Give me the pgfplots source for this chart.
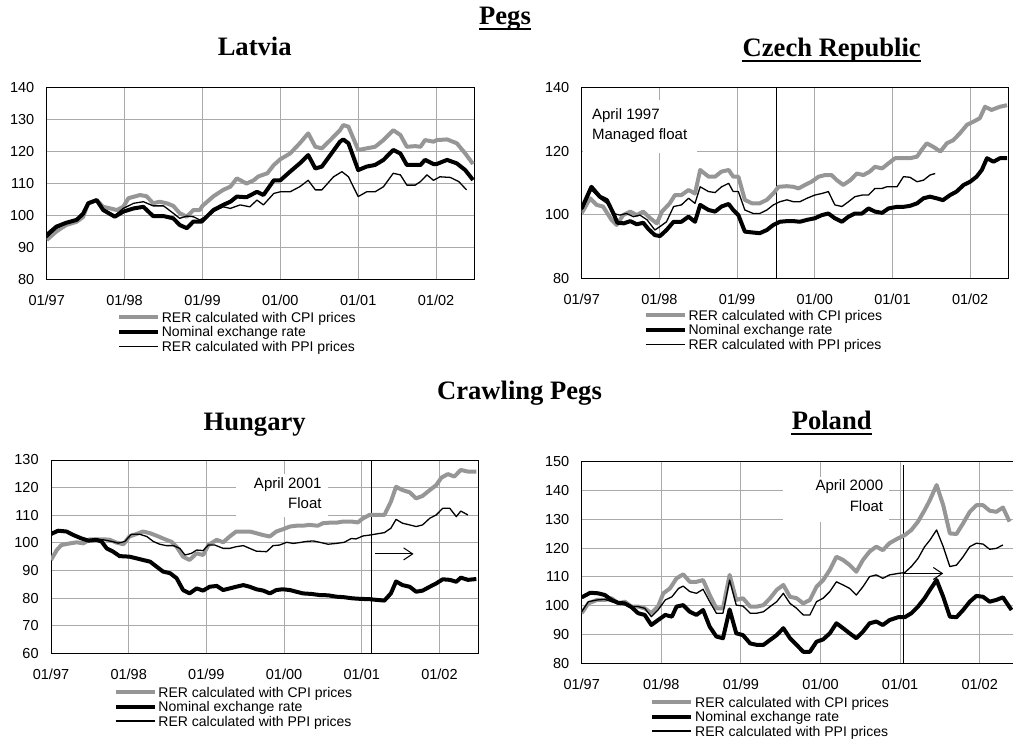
\documentclass[border=0pt]{standalone}
\usepackage{pgfplots}
\pgfplotsset{compat=1.18}
\usepackage{fontspec}
\setmainfont{Liberation Sans}
\newfontfamily\titlefont{Liberation Serif}
\usetikzlibrary{arrows.meta}
\definecolor{cpigray}{RGB}{150,150,150}
\definecolor{gridgray}{RGB}{170,170,170}
\pgfplotsset{
 panel/.style={
  scale only axis, anchor=south west,
  xmin=0, xmax=66,
  xtick={0,12,24,36,48,60},
  xticklabels={01/97,01/98,01/99,01/00,01/01,01/02},
  grid=major, major grid style={gridgray, line width=0.5pt},
  axis line style={black, line width=0.5pt},
  major tick length=0pt, tick style={draw=none},
  /pgf/number format/assume math mode=true,
  tick label style={font=\fontsize{7.25}{8}\selectfont, inner sep=0pt},
  xticklabel style={anchor=base, yshift=-12.85pt},
  yticklabel style={anchor=east, xshift=-6pt},
  legend cell align=left,
  legend image code/.code={\draw[##1] (0pt,0pt) -- (19.5pt,0pt);},
  legend style={draw=none, fill=none, inner sep=0pt, row sep=2.25pt, anchor=north west,
    nodes={inner ysep=0pt, inner xsep=0.9pt, text height=5pt, text depth=0pt, font=\fontsize{7}{8}\selectfont}},
 },
 cpi/.style={color=cpigray, line width=2pt, line join=round},
 nom/.style={color=black, line width=2pt, line join=round},
 ppi/.style={color=black, line width=0.65pt, line join=round},
}
\tikzset{ttl/.style={font=\titlefont\bfseries\fontsize{13.3}{15}\selectfont, inner sep=0pt, anchor=base},
 anot/.style={font=\fontsize{7.5}{9}\selectfont, inner sep=0pt, text height=5.4pt, text depth=0pt}}
\begin{document}
\begin{tikzpicture}
\path[use as bounding box] (0pt,0pt) rectangle (506.5pt,-370pt);

% ---------------- Latvia ----------------
\begin{axis}[panel, at={(23.35pt,-139.65pt)}, width=214.15pt, height=95.8pt,
  ymin=80, ymax=140, ytick={80,90,...,140},
  legend style={at={(0.1634,-0.1707)}}]
\addplot[cpi] coordinates {(0,92.3)(1.5,95)(3,97)(4.6,98)(5.6,99.5)(6.4,103.8)(7.7,104.8)(8.7,102.7)(9.8,102.2)(10.8,101.7)(11.8,102.7)(12.6,105.4)(14.4,106.4)(15.4,106)(16.4,103.8)(17.4,104.3)(18.5,103.8)(19.5,103)(20.5,100.7)(21.6,99.6)(22.6,101.7)(23.6,101.7)(24,103)(25.7,106)(27.2,108)(28.3,109)(29.3,111.6)(30.8,110)(31.9,111)(32.6,112.2)(34,113.2)(35,115.8)(36,117.6)(37.5,119.4)(39,122.6)(40.3,125.7)(41.4,121.5)(42.4,121)(43.7,123.6)(45.2,126.7)(45.7,128.3)(46.5,127.8)(48,120.5)(49.3,121)(50.6,121.5)(51.9,123.6)(53.4,126.7)(54.5,125.2)(55.5,121.5)(56.8,121.7)(57.6,121.5)(58.3,123.6)(59.6,123.1)(60.1,123.6)(61.7,123.8)(63.2,122.6)(64.5,119.4)(65.7,116.1)};
\addplot[nom] coordinates {(0,93.9)(1.5,96.5)(3,97.7)(4.6,98.6)(5.6,100.5)(6.4,103.8)(7.7,104.8)(8.7,101.7)(10.5,99.6)(11.8,101.2)(13.4,102.2)(14.9,102.7)(16.4,99.8)(18,99.8)(19.5,99.1)(20.5,97)(21.6,96)(22.6,98.1)(23.9,98.1)(25.7,101.7)(27.2,103.3)(28.3,104.3)(29.3,105.9)(30.8,105.7)(32.4,107.4)(33.4,106.4)(35,111)(36,111)(37.5,113.7)(39,116.3)(40.3,118.9)(41.4,114.7)(42.4,115.3)(43.7,118.9)(45.2,123.1)(45.7,123.8)(46.5,122.6)(48,114.2)(49.3,115.3)(50.6,115.8)(51.9,117.4)(53.4,120.5)(54.5,119.4)(55.5,115.8)(57.6,115.8)(58.3,117.4)(59.6,116.1)(60.1,116.1)(61.7,117.4)(63.2,116.3)(64.5,114.2)(65.7,111.1)};
\addplot[ppi] coordinates {(0,93)(1.5,96)(3,97.5)(4.6,98.4)(5.6,100.3)(6.4,103.6)(7.7,104.6)(8.7,101.9)(10.5,100)(11.8,102.2)(13.4,103.8)(14.9,104.3)(16.4,103)(18,103)(19.5,100.7)(20.5,99.1)(21.6,99.8)(22.6,99.6)(23.6,98.6)(25.7,101.2)(27.2,102.7)(28.3,102.2)(29.8,103.3)(31.3,102.7)(32.4,104.8)(33.4,103.3)(35,106.9)(36,107.4)(37.5,107.4)(39,109)(40.3,111)(41.4,108)(42.4,108)(44.2,112.1)(45.5,113.7)(46.5,112.1)(48,105.9)(49.3,107.4)(50.6,107.4)(51.9,109)(53.4,113.2)(54.5,112.7)(55.5,109.5)(56.8,109.5)(57.6,110.6)(58.6,112.7)(59.6,111)(60.6,112.1)(62.2,111.9)(63.5,110.6)(64.7,108)};
\legend{RER calculated with CPI prices, Nominal exchange rate, RER calculated with PPI prices}
\end{axis}

% ---------------- Czech Republic ----------------
\begin{axis}[panel, at={(290.85pt,-139.15pt)}, width=213.65pt, height=95.3pt,
  ymin=80, ymax=140, ytick={80,100,120,140},
  legend style={at={(0.1442,-0.1663)}}]
\fill[white] (0.2,119.3) rectangle (17.8,136.1);
\draw[black, line width=0.6pt] (30.1,80) -- (30.1,140);
\addplot[cpi] coordinates {(0,100.5)(1.3,105.2)(2.3,103.1)(3.3,102.6)(4.6,98.4)(5.4,96.8)(6.4,99.9)(7.5,101)(8.5,99.9)(9.5,101)(10.6,98.9)(11.6,97.3)(12.4,101)(13.6,103.6)(14.4,106.2)(15.4,106.2)(16.5,107.8)(17.5,106.7)(18.3,114.1)(19.6,112)(20.6,112)(21.6,113.6)(22.7,114.1)(23.4,112)(24.2,112)(25.2,104.7)(26.3,103.6)(27.5,103.6)(28.6,104.7)(29.6,106.7)(30.4,108.8)(31.7,109)(32.7,108.8)(33.5,108.3)(34.5,109.4)(35.5,110.4)(36.6,112)(37.6,112.5)(38.6,112.5)(39.4,110.9)(40.4,109.4)(41.5,110.9)(42.5,113)(43.5,112.5)(44.5,113.6)(45.3,115.1)(46.4,114.6)(47.4,116.2)(48.4,117.8)(49.7,117.8)(50.7,117.8)(51.8,118.3)(52.5,120.4)(53.3,122.5)(54.3,121.4)(55.4,119.9)(56.4,122.5)(57.4,123.5)(58.4,125.6)(59.5,128.3)(60.5,129.3)(61.5,130.4)(62.3,134)(63.3,133)(64.6,134)(65.7,134.5)};
\addplot[nom] coordinates {(0,102)(1.5,108.8)(2.8,105.7)(3.9,104.6)(4.9,100.4)(5.5,97.5)(6.5,97.3)(7.5,98)(8.5,97)(9.5,97.5)(10.3,95.5)(11.3,93.6)(12.1,93.3)(13.1,95.2)(14.2,97.8)(15.4,97.8)(16.5,99.4)(17.5,97.8)(18.3,103.1)(19.6,101.5)(20.6,101)(21.6,102.6)(22.7,103.4)(23.4,101.5)(24.2,99.9)(25.2,94.7)(26.5,94.4)(27.5,94.2)(28.6,95.2)(29.6,96.8)(30.6,97.8)(31.7,98)(32.7,98)(33.7,97.8)(34.8,98.4)(36,98.9)(37.1,99.9)(38.1,100.4)(39.1,98.9)(40.2,97.8)(41.2,99.4)(42.2,100.4)(43.3,100.4)(44.3,102)(45.3,101)(46.4,100.6)(47.4,102)(48.7,102.5)(49.7,102.5)(50.7,102.8)(51.8,103.6)(52.8,105.2)(53.8,105.7)(54.8,105.2)(55.8,104.6)(56.9,106.2)(57.9,107.3)(59,109.4)(60,110.4)(61,112)(61.8,114.1)(62.6,117.8)(63.6,116.7)(64.6,117.8)(65.7,117.8)};
\addplot[ppi] coordinates {(0,101.5)(1.5,107.8)(2.8,105.2)(3.9,103.6)(4.9,100.4)(5.9,99.9)(6.9,100.4)(8,99.4)(9,99.9)(10.1,98.4)(11.3,95.2)(12.1,96.3)(13.1,97.8)(14.2,102.6)(15.4,103.1)(16.5,105.2)(17.5,103.6)(18.3,108.8)(19.6,107.3)(20.6,107)(21.6,108.8)(22.7,109.9)(23.4,107.3)(24.2,107.3)(25.2,101.5)(26.5,100.4)(27.5,100.4)(28.6,101.5)(29.6,103.1)(30.6,104.1)(31.7,104.7)(32.7,104.1)(33.7,104.1)(34.8,105.2)(36,106.2)(37.1,106.7)(38.1,107.3)(39.1,103.1)(40.2,102.6)(41.2,104.1)(42.2,105.7)(43.3,106.2)(44.3,106.2)(45.3,108.3)(46.4,108.3)(47.1,108.8)(48.7,108.8)(49.7,112)(50.7,111.8)(51.8,110.4)(52.8,110.9)(53.8,112.5)(54.6,113)};
\node[anot, anchor=west] at (1.55,131.7) {April 1997};
\node[anot, anchor=west] at (1.55,125.3) {Managed float};
\legend{RER calculated with CPI prices, Nominal exchange rate, RER calculated with PPI prices}
\end{axis}

% ---------------- Hungary ----------------
\begin{axis}[panel, at={(25.5pt,-326.65pt)}, width=213.65pt, height=96.65pt,
  ymin=60, ymax=130, ytick={60,70,...,130},
  legend style={at={(0.1458,-0.1728)}}]
\fill[white] (28.6,109.5) rectangle (42.8,124.8);
\draw[black, line width=0.6pt] (49.5,60) -- (49.5,130);
\draw[black, line width=0.5pt, -{Straight Barb[length=4.5pt,width=6pt]}] (50.1,96) -- (56,96);
\addplot[cpi] coordinates {(0,93.8)(0.9,97.4)(1.6,99.2)(2.9,99.8)(4,100.2)(5,99.8)(6,101.3)(7,101.3)(8.1,101.3)(9.1,101.1)(10.1,100.1)(11.2,99.5)(12.1,102.3)(13.2,103.2)(14.2,104.1)(15.3,103.5)(16.6,102.3)(17.6,101.3)(18.6,100.4)(19.4,98.6)(20.4,95)(21.4,93.8)(22.5,96.2)(23.5,95.6)(24.3,99.2)(25.6,101.1)(26.6,100.2)(27.6,102.3)(28.6,104.1)(29.7,104.1)(30.7,104.1)(31.7,103.5)(32.8,102.8)(33.8,102.3)(34.8,104.1)(35.8,104.9)(36.9,105.9)(37.9,106.2)(38.9,106.2)(39.9,106.5)(41.2,106.2)(42,107.1)(43,107.3)(44.1,107.3)(45.1,107.7)(46.4,107.7)(47.4,107.4)(48.2,108.9)(49.2,110.1)(50.2,110.1)(51.5,110.1)(52.5,114.9)(53.3,120.3)(54.3,119.1)(55.4,118.3)(56.4,116.1)(57.4,117)(58.5,119.1)(59.5,120.9)(60.3,123.6)(61.3,124.9)(62.3,124)(63.3,126.4)(64.4,125.8)(65.7,125.8)};
\addplot[nom] coordinates {(0,103.2)(1.1,104.4)(2.4,104.1)(3.5,102.8)(4.7,101.6)(5.8,100.8)(7,101.1)(7.8,100.5)(8.6,98)(9.6,96.8)(10.6,95.2)(12.1,95)(13.2,94.4)(14.2,93.8)(15.3,93.2)(16.3,91.4)(17.3,89.6)(18.4,89)(19.4,87.2)(20.4,82.9)(21.4,81.7)(22.5,83.5)(23.5,82.7)(24.5,84.1)(25.6,84.4)(26.6,82.9)(27.6,83.5)(28.6,84.1)(29.7,84.7)(30.7,84.1)(31.7,83.2)(32.8,82.7)(33.8,81.7)(34.8,82.9)(35.8,83.2)(36.9,82.9)(37.9,82.3)(38.9,81.7)(40.2,81.5)(41.5,81.1)(42.8,81)(44.1,80.5)(45.3,80.3)(46.6,79.9)(47.9,79.7)(49.2,79.6)(50.5,79.3)(51.5,79.1)(52.5,81.7)(53.3,86)(54.3,84.7)(55.4,84.1)(56.4,82.3)(57.4,82.7)(58.5,84.1)(59.5,85.3)(60.5,86.8)(61.6,86.6)(62.6,85.9)(63.3,87.4)(64.4,86.6)(65.7,86.9)};
\addplot[ppi] coordinates {(0,103.5)(1.1,104.4)(2.4,104.1)(3.7,102.8)(5,101.3)(6,100.7)(7,101.3)(8.1,101.1)(9.4,100.5)(10.4,99.9)(11.4,100.5)(12.4,103.1)(13.7,103.1)(14.8,102.3)(15.8,100.5)(16.8,99.5)(17.8,99)(18.9,99)(19.9,98)(20.7,95.6)(21.7,96.2)(22.5,97.4)(23.5,97.2)(24.3,99.2)(25.3,99.2)(26.6,98)(27.6,98)(28.6,98.6)(29.7,99)(30.7,98)(31.7,97)(33.3,96.8)(34.3,99)(35.3,99.2)(36.4,100.2)(37.4,99.8)(38.4,100.1)(39.4,100.5)(40.5,100.7)(41.5,100.2)(42.8,99.5)(44.1,99.8)(45.3,100.2)(46.4,101.6)(47.1,101.4)(48.2,102.5)(49.2,102.8)(50.2,103.2)(51.5,103.7)(52.5,105.3)(53.3,108.5)(54.3,107.1)(55.4,106.5)(56.4,105.9)(57.4,106.5)(58.5,108.9)(59.5,110.1)(60.5,112.5)(61.6,112.5)(62.6,109.5)(63.3,111.5)(64.4,110.1)};
\node[anot, anchor=east] at (41.85,121.6) {April 2001};
\node[anot, anchor=east] at (41.85,114.3) {Float};
\legend{RER calculated with CPI prices, Nominal exchange rate, RER calculated with PPI prices}
\end{axis}

% ---------------- Poland ----------------
\begin{axis}[panel, at={(290.85pt,-331.65pt)}, width=218.9pt, height=100.8pt,
  ymin=80, ymax=150, ytick={80,90,...,150},
  legend style={at={(0.156,-0.1657)}}]
\fill[white] (30.4,129.2) rectangle (46.4,144.8);
\draw[black, line width=0.6pt] (48.5,80) -- (48.5,149);
\draw[black, line width=0.5pt, -{Straight Barb[length=4.5pt,width=6pt]}] (48.5,111.2) -- (54.5,111.2);
\addplot[cpi] coordinates {(0,97.4)(1,100.8)(2.3,102)(3.5,102)(4.5,102.6)(5.5,100.8)(6.5,101.4)(7.5,99.7)(8.5,99.7)(9.5,99.1)(10.5,97.4)(11.5,99.7)(12.3,104.3)(13.3,106)(14.3,109.5)(15.3,110.9)(16.3,108.3)(17.3,108.3)(18.3,108.9)(19.3,103.7)(20.3,99.1)(21.3,99.1)(22.3,110.7)(23.3,102)(24.3,102.6)(25.4,99.7)(26.4,99.7)(27.4,100.2)(28.4,102.6)(29.4,105.5)(30.4,107.2)(31.4,103.1)(32.4,102.6)(33.4,100.8)(34.4,102)(35.4,106.6)(36.4,108.9)(37.4,112.4)(38.4,117)(39.4,115.9)(40.4,114.1)(41.4,111.8)(42.4,115.9)(43.4,118.8)(44.4,120.5)(45.4,119.3)(46.4,121.7)(47.7,123.4)(48.7,124.5)(49.7,126.3)(50.7,129.2)(51.7,133.2)(52.5,136.7)(53.5,141.9)(54.5,134.9)(55.5,125.1)(56.5,124.9)(57.5,128.6)(58.5,132.6)(59.5,134.9)(60.5,134.9)(61.5,133)(62.5,132.6)(63.5,134.1)(64.5,129.2)};
\addplot[nom] coordinates {(0,102.9)(1.3,104.5)(2.5,104.3)(3.5,103.7)(4.5,102)(5.5,101)(6.5,100.8)(7.5,99.5)(8.5,97.4)(9.5,96.8)(10.5,93.3)(11.5,95)(12.6,96.8)(13.6,96.2)(14.3,99.7)(15.3,100.2)(16.3,97.9)(17.3,96.8)(18.3,98.5)(19.3,92.7)(20.3,89.3)(21.3,88.7)(22.3,98.7)(23.3,90.4)(24.3,89.8)(25.4,86.9)(26.4,86.4)(27.4,86.4)(28.4,88.1)(29.4,89.8)(30.4,92.2)(31.4,88.7)(32.4,86.4)(33.4,84)(34.4,84)(35.4,87.5)(36.4,88.3)(37.4,90.4)(38.4,93.9)(39.4,92.2)(40.4,90.4)(41.4,88.7)(42.4,91)(43.4,93.9)(44.4,94.5)(45.4,93.3)(46.4,95)(47.7,96)(48.7,96)(49.7,97.4)(50.7,99.7)(51.7,102.6)(52.5,105.5)(53.5,108.9)(54.5,103.1)(55.5,96.2)(56.5,96)(57.5,98.5)(58.5,101.4)(59.5,103.4)(60.5,103.1)(61.5,101.4)(62.5,102)(63.5,102.9)(64.8,98.5)};
\addplot[ppi] coordinates {(0,97.9)(1,101.4)(2.3,102)(3.5,102.2)(4.5,101.4)(5.5,100.8)(6.5,100.8)(7.5,99.7)(8.5,99.7)(9.5,99.1)(10.5,96.2)(11.5,98.5)(12.6,102)(13.6,103.1)(14.6,106)(15.3,106.8)(16.3,104.9)(17.3,104.3)(18.3,105.7)(19.3,101.4)(20.3,97.4)(21.3,97.4)(22.3,108.9)(23.3,100.2)(24.3,99.9)(25.4,97.4)(26.4,97.4)(27.4,97.9)(28.4,99.7)(29.4,101.4)(30.4,104.3)(31.4,100.8)(32.4,99.1)(33.4,96.8)(34.4,96.8)(35.4,101.4)(36.4,102.6)(37.4,104.9)(38.4,108.3)(39.4,107.2)(40.4,106)(41.4,103.7)(42.4,106.6)(43.4,110.1)(44.4,110.7)(45.4,109.5)(46.4,110.7)(47.7,111.2)(48.7,111.5)(49.7,113.6)(50.7,116.4)(51.7,120.5)(52.5,122.8)(53.5,126.3)(54.5,120.5)(55.5,113.6)(56.5,114.1)(57.5,117)(58.5,120.5)(59.5,121.7)(60.5,121.4)(61.5,119.6)(62.5,119.9)(63.5,121.1)};
\node[anot, anchor=east] at (45.5,141.9) {April 2000};
\node[anot, anchor=east] at (45.5,134.6) {Float};
\legend{RER calculated with CPI prices, Nominal exchange rate, RER calculated with PPI prices}
\end{axis}

% ---------------- Titles ----------------
\node[ttl] (pegs) at (252.5pt,-12.4pt) {Pegs};
\draw[line width=1pt] ([yshift=-2pt]pegs.base west) -- ([yshift=-2pt]pegs.base east);
\node[ttl] at (127.35pt,-27.9pt) {Latvia};
\node[ttl] (cz) at (415.85pt,-28.4pt) {Czech Republic};
\draw[line width=1pt] ([yshift=-2pt]cz.base west) -- ([yshift=-2pt]cz.base east);
\node[ttl] at (259.75pt,-199.9pt) {Crawling Pegs};
\node[ttl] at (127.35pt,-215.15pt) {Hungary};
\node[ttl] (pl) at (415.85pt,-214.9pt) {Poland};
\draw[line width=1pt] ([yshift=-2pt]pl.base west) -- ([yshift=-2pt]pl.base east);
\end{tikzpicture}
\end{document}
